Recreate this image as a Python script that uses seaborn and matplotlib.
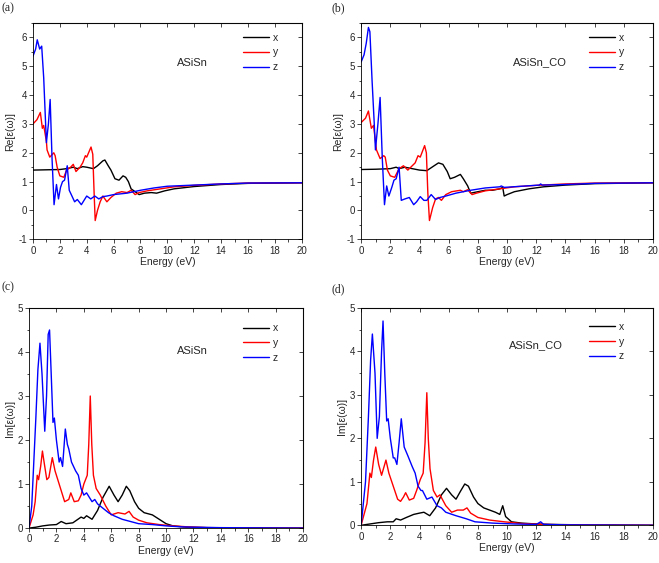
import pandas as pd
import numpy as np
import matplotlib.pyplot as plt
import matplotlib.ticker as ticker
import seaborn as sns

# ---- data ----
# (a) Re, ASiSn
a_x_e = [0, 1, 2, 2.5, 3.0, 3.3, 3.7, 4.0, 4.5, 4.8, 5.2, 5.35, 5.6, 5.8, 6.1, 6.4, 6.7, 6.9, 7.1, 7.3,
         7.6, 7.9, 8.3, 8.8, 9.2, 9.8, 10.5, 12, 14, 16, 20]
a_x_v = [1.40, 1.41, 1.42, 1.45, 1.50, 1.45, 1.52, 1.50, 1.45, 1.55, 1.72, 1.75, 1.55, 1.40, 1.10, 1.05, 1.20, 1.15, 1.00, 0.75,
         0.65, 0.55, 0.60, 0.62, 0.60, 0.68, 0.75, 0.83, 0.90, 0.94, 0.96]
a_y_e = [0, 0.3, 0.55, 0.7, 0.8, 1.0, 1.05, 1.25, 1.55, 1.65, 1.8, 2.0, 2.3, 2.5, 2.8, 3.0, 3.2, 3.5, 3.7, 3.9,
         4.0, 4.32, 4.45, 4.55, 4.63, 4.8, 5.0, 5.2, 5.5, 5.8, 6.2, 6.6, 7.0, 7.3, 7.6, 7.9, 8.5, 9.5, 10.5, 12,
         14, 16, 20]
a_y_v = [3.00, 3.15, 3.40, 2.85, 2.95, 2.40, 2.10, 1.85, 2.00, 1.90, 1.50, 1.20, 1.15, 1.40, 1.50, 1.60, 1.35, 1.50, 1.65, 1.90,
         1.85, 2.20, 1.95, 0.60, -0.35, 0.00, 0.30, 0.50, 0.30, 0.45, 0.60, 0.65, 0.62, 0.70, 0.55, 0.62, 0.68, 0.75, 0.82, 0.87,
         0.92, 0.95, 0.96]
a_z_e = [0, 0.2, 0.32, 0.5, 0.65, 0.8, 1.0, 1.15, 1.28, 1.42, 1.57, 1.75, 1.9, 2.05, 2.2, 2.35, 2.55, 2.7, 2.9, 3.1,
         3.3, 3.6, 3.8, 4.0, 4.3, 4.6, 4.9, 5.2, 5.5, 6.0, 7.0, 8.0, 9.0, 10, 12, 14, 16, 20]
a_z_v = [5.35, 5.60, 5.92, 5.60, 5.70, 4.60, 2.35, 3.00, 3.85, 1.80, 0.20, 0.90, 0.40, 0.80, 1.00, 1.05, 1.55, 0.70, 0.50, 0.30,
         0.38, 0.20, 0.35, 0.50, 0.40, 0.50, 0.40, 0.48, 0.50, 0.55, 0.60, 0.70, 0.78, 0.84, 0.88, 0.92, 0.95, 0.96]

# (b) Re, ASiSn_CO
b_x_e = [0, 1, 2, 2.4, 2.6, 3.0, 3.5, 4.0, 4.5, 5.0, 5.3, 5.6, 5.9, 6.1, 6.4, 6.8, 7.0, 7.3, 7.5, 8.0,
         8.5, 9.0, 9.5, 9.7, 9.8, 10.0, 10.5, 11.5, 12.5, 14, 16, 20]
b_x_v = [1.42, 1.43, 1.45, 1.50, 1.45, 1.50, 1.45, 1.40, 1.38, 1.55, 1.65, 1.60, 1.35, 1.10, 1.15, 1.25, 1.10, 0.85, 0.60, 0.65,
         0.70, 0.70, 0.75, 0.80, 0.50, 0.55, 0.65, 0.75, 0.82, 0.88, 0.93, 0.96]
b_y_e = [0, 0.3, 0.5, 0.7, 0.85, 1.05, 1.3, 1.55, 1.65, 1.8, 2.0, 2.3, 2.6, 2.9, 3.2, 3.5, 3.7, 3.9, 4.05, 4.35,
         4.47, 4.57, 4.68, 4.9, 5.1, 5.3, 5.5, 5.8, 6.2, 6.8, 7.0, 7.3, 7.6, 7.9, 8.5, 9.5, 10.5, 12, 14, 16,
         20]
b_y_v = [3.05, 3.20, 3.45, 2.85, 2.95, 2.10, 1.80, 1.90, 1.85, 1.40, 1.20, 1.15, 1.45, 1.55, 1.40, 1.55, 1.65, 1.90, 1.85, 2.25,
         2.00, 0.60, -0.35, 0.10, 0.40, 0.45, 0.35, 0.55, 0.65, 0.70, 0.65, 0.72, 0.55, 0.60, 0.68, 0.75, 0.82, 0.87, 0.92, 0.95,
         0.96]
b_z_e = [0, 0.2, 0.35, 0.5, 0.6, 0.75, 0.9, 0.98, 1.15, 1.3, 1.45, 1.6, 1.75, 1.9, 2.1, 2.25, 2.4, 2.6, 2.75, 3.0,
         3.3, 3.6, 3.8, 4.05, 4.3, 4.5, 4.8, 5.1, 5.4, 5.8, 6.5, 7.5, 8.5, 9.5, 9.6, 9.8, 11, 12.2, 12.3, 12.4,
         14, 16, 20]
b_z_v = [5.15, 5.40, 5.80, 6.35, 6.20, 4.50, 3.00, 2.10, 3.00, 3.92, 1.80, 0.20, 0.85, 0.50, 0.80, 1.05, 1.10, 1.50, 0.35, 0.40,
         0.45, 0.20, 0.30, 0.48, 0.35, 0.35, 0.55, 0.38, 0.45, 0.50, 0.60, 0.70, 0.78, 0.82, 0.85, 0.80, 0.84, 0.88, 0.92, 0.88,
         0.90, 0.94, 0.96]

# (c) Im, ASiSn
c_x_e = [0, 0.5, 1.0, 1.5, 2.0, 2.35, 2.7, 3.2, 3.8, 4.0, 4.2, 4.6, 5.0, 5.4, 5.85, 6.2, 6.5, 6.8, 7.1, 7.35,
         7.7, 8.0, 8.4, 9.0, 9.5, 10, 10.5, 11.5, 13, 20]
c_x_v = [0, 0.02, 0.05, 0.07, 0.08, 0.15, 0.10, 0.12, 0.25, 0.22, 0.28, 0.20, 0.40, 0.70, 0.95, 0.75, 0.60, 0.75, 0.95, 0.85,
         0.60, 0.45, 0.35, 0.30, 0.20, 0.10, 0.05, 0.02, 0.01, 0]
c_y_e = [0, 0.3, 0.45, 0.6, 0.7, 0.85, 0.98, 1.1, 1.3, 1.45, 1.7, 1.9, 2.2, 2.4, 2.6, 2.9, 3.05, 3.3, 3.6, 3.8,
         4.0, 4.25, 4.36, 4.47, 4.58, 4.7, 4.9, 5.2, 5.6, 6.0, 6.5, 7.0, 7.3, 7.6, 8.0, 8.6, 9.5, 10.5, 11.5, 13,
         20]
c_y_v = [0, 0.30, 0.60, 1.20, 1.10, 1.40, 1.75, 1.50, 1.10, 1.15, 1.60, 1.30, 1.00, 0.80, 0.60, 0.65, 0.80, 0.60, 0.62, 0.75,
         1.00, 1.20, 1.90, 3.00, 1.90, 1.20, 0.90, 0.75, 0.50, 0.30, 0.35, 0.32, 0.38, 0.25, 0.18, 0.12, 0.08, 0.05, 0.03, 0.01,
         0]
c_z_e = [0, 0.2, 0.35, 0.5, 0.65, 0.8, 0.95, 1.15, 1.28, 1.4, 1.5, 1.62, 1.75, 1.85, 2.0, 2.2, 2.3, 2.45, 2.65, 2.8,
         2.9, 3.1, 3.4, 3.6, 3.8, 4.0, 4.2, 4.4, 4.6, 4.8, 5.0, 5.4, 5.8, 6.2, 6.8, 7.4, 8.0, 9.0, 10, 11,
         12, 14, 20]
c_z_v = [0, 0.50, 1.50, 2.50, 3.60, 4.20, 3.50, 2.20, 3.00, 4.40, 4.50, 3.50, 2.40, 2.50, 2.00, 1.50, 1.60, 1.40, 2.25, 1.90,
         1.80, 1.50, 1.30, 1.20, 0.90, 0.75, 0.80, 0.70, 0.60, 0.65, 0.55, 0.45, 0.35, 0.28, 0.20, 0.15, 0.10, 0.08, 0.05, 0.03,
         0.02, 0.01, 0]

# (d) Im, ASiSn_CO
d_x_e = [0, 0.6, 1.2, 1.8, 2.2, 2.4, 2.7, 3.1, 3.6, 4.0, 4.3, 4.7, 5.1, 5.5, 5.85, 6.2, 6.5, 6.8, 7.1, 7.35,
         7.7, 8.0, 8.4, 8.8, 9.2, 9.5, 9.7, 9.9, 10.3, 11, 12, 13, 15, 20]
d_x_v = [0, 0.03, 0.06, 0.08, 0.08, 0.15, 0.12, 0.18, 0.25, 0.28, 0.30, 0.22, 0.40, 0.70, 0.85, 0.70, 0.60, 0.78, 0.95, 0.90,
         0.65, 0.50, 0.40, 0.35, 0.30, 0.25, 0.45, 0.20, 0.08, 0.05, 0.03, 0.02, 0.01, 0]
d_y_e = [0, 0.4, 0.6, 0.7, 0.85, 1.0, 1.2, 1.4, 1.7, 1.9, 2.2, 2.5, 2.7, 2.9, 3.05, 3.3, 3.6, 3.8, 4.05, 4.25,
         4.38, 4.5, 4.6, 4.72, 4.95, 5.2, 5.4, 5.8, 6.2, 6.6, 7.0, 7.25, 7.5, 8.0, 8.8, 9.8, 11, 12.5, 14, 20]
d_y_v = [0, 0.50, 1.20, 1.10, 1.50, 1.80, 1.40, 1.15, 1.50, 1.20, 0.90, 0.60, 0.55, 0.65, 0.75, 0.58, 0.62, 0.80, 1.05, 1.20,
         1.90, 3.05, 2.00, 1.30, 0.80, 0.65, 0.70, 0.45, 0.30, 0.35, 0.35, 0.40, 0.28, 0.18, 0.12, 0.08, 0.04, 0.02, 0.01, 0]
d_z_e = [0, 0.3, 0.5, 0.65, 0.77, 0.95, 1.1, 1.25, 1.4, 1.5, 1.62, 1.75, 1.85, 2.0, 2.2, 2.3, 2.45, 2.6, 2.75, 2.95,
         3.2, 3.5, 3.7, 3.9, 4.1, 4.2, 4.5, 4.85, 5.2, 5.5, 5.8, 6.5, 7.2, 7.8, 9.0, 10.5, 12.0, 12.3, 12.5, 14,
         20]
d_z_v = [0, 1.00, 2.50, 3.80, 4.40, 3.50, 2.00, 2.50, 4.00, 4.70, 3.50, 2.40, 2.45, 2.00, 1.55, 1.55, 1.40, 1.90, 2.45, 1.80,
         1.60, 1.35, 1.20, 0.90, 0.80, 0.80, 0.60, 0.65, 0.45, 0.40, 0.30, 0.22, 0.15, 0.08, 0.05, 0.03, 0.02, 0.08, 0.02, 0.01,
         0]

directions = ["x", "y", "z"]
materials = ["ASiSn", "ASiSn_CO", "ASiSn", "ASiSn_CO"]
panel_tags = ["(a)", "(b)", "(c)", "(d)"]
y_labels = ["Re[ε(ω)]", "Re[ε(ω)]", "Im[ε(ω)]", "Im[ε(ω)]"]

panel_series = [
    [(a_x_e, a_x_v), (a_y_e, a_y_v), (a_z_e, a_z_v)],
    [(b_x_e, b_x_v), (b_y_e, b_y_v), (b_z_e, b_z_v)],
    [(c_x_e, c_x_v), (c_y_e, c_y_v), (c_z_e, c_z_v)],
    [(d_x_e, d_x_v), (d_y_e, d_y_v), (d_z_e, d_z_v)],
]

# ---- style ----
sns.set_style("white")
plt.rcParams['font.family'] = ['Liberation Sans', 'DejaVu Sans']
plt.rcParams['axes.unicode_minus'] = False
palette_dict = {"x": "black", "y": "#ff0000", "z": "#0000ff"}

fig = plt.figure(figsize=(6.59, 5.63), dpi=100)

# axes boxes in figure fractions
boxes = [
    [0.050, 0.575, 0.408, 0.384],
    [0.548, 0.575, 0.443, 0.384],
    [0.044, 0.062, 0.416, 0.391],
    [0.548, 0.067, 0.443, 0.386],
]
tag_pos = [(0.003, 0.996), (0.503, 0.996), (0.003, 0.500), (0.503, 0.497)]
ylims = [(-1, 6.5), (-1, 6.5), (0, 5), (0, 5)]
text_pos = [(10.7, 5.13), (10.4, 5.15), (10.8, 4.02), (10.1, 4.15)]
legend_anchor = [(0.78, 0.955), (0.78, 0.955), (0.78, 0.93), (0.78, 0.935)]

for i in range(4):
    ax = fig.add_axes(boxes[i])

    records = []
    for d, (e, v) in zip(directions, panel_series[i]):
        records.append(pd.DataFrame({"energy": e, "value": v, "dir": d}))
    df = pd.concat(records, ignore_index=True)

    sns.lineplot(
        data=df,
        x="energy",
        y="value",
        hue="dir",
        hue_order=directions,
        palette=palette_dict,
        estimator=None,
        linewidth=1.0,
        ax=ax,
        legend=False,
    )

    ax.set_xlim(0, 20)
    ax.set_ylim(*ylims[i])
    ax.xaxis.set_major_locator(ticker.MultipleLocator(2))
    ax.xaxis.set_minor_locator(ticker.MultipleLocator(1))
    ax.yaxis.set_major_locator(ticker.MultipleLocator(1))
    ax.yaxis.set_minor_locator(ticker.MultipleLocator(0.5))
    ax.tick_params(which="both", direction="out", bottom=True, left=True, labelsize=7, pad=1.5, width=0.6)
    ax.tick_params(which="major", length=3)
    ax.tick_params(which="minor", length=1.8)

    # inward ticks on top and right, Origin style
    top = ax.secondary_xaxis("top")
    top.xaxis.set_major_locator(ticker.MultipleLocator(2))
    top.tick_params(direction="in", length=3, width=0.6, labeltop=False)
    right = ax.secondary_yaxis("right")
    right.yaxis.set_major_locator(ticker.MultipleLocator(1))
    right.tick_params(direction="in", length=3, width=0.6, labelright=False)

    for spine in ax.spines.values():
        spine.set_linewidth(0.6)
        spine.set_color("black")

    ax.set_xlabel("Energy (eV)", fontsize=7.5, labelpad=1)
    ax.set_ylabel(y_labels[i], fontsize=7.5, labelpad=2)

    ax.text(text_pos[i][0], text_pos[i][1], materials[i], fontsize=8, va="center", ha="left")

    leg = ax.legend(
        ax.lines[:3], directions,
        loc="upper left",
        bbox_to_anchor=legend_anchor[i],
        frameon=False,
        fontsize=7.5,
        handlelength=2.5,
        handletextpad=0.4,
        labelspacing=0.45,
        borderpad=0,
        borderaxespad=0,
    )

    fig.text(tag_pos[i][0], tag_pos[i][1], panel_tags[i], fontsize=8.5, va="top", ha="left",
             family=["Liberation Serif", "DejaVu Serif"])

fig.savefig("out.png", dpi=100)
